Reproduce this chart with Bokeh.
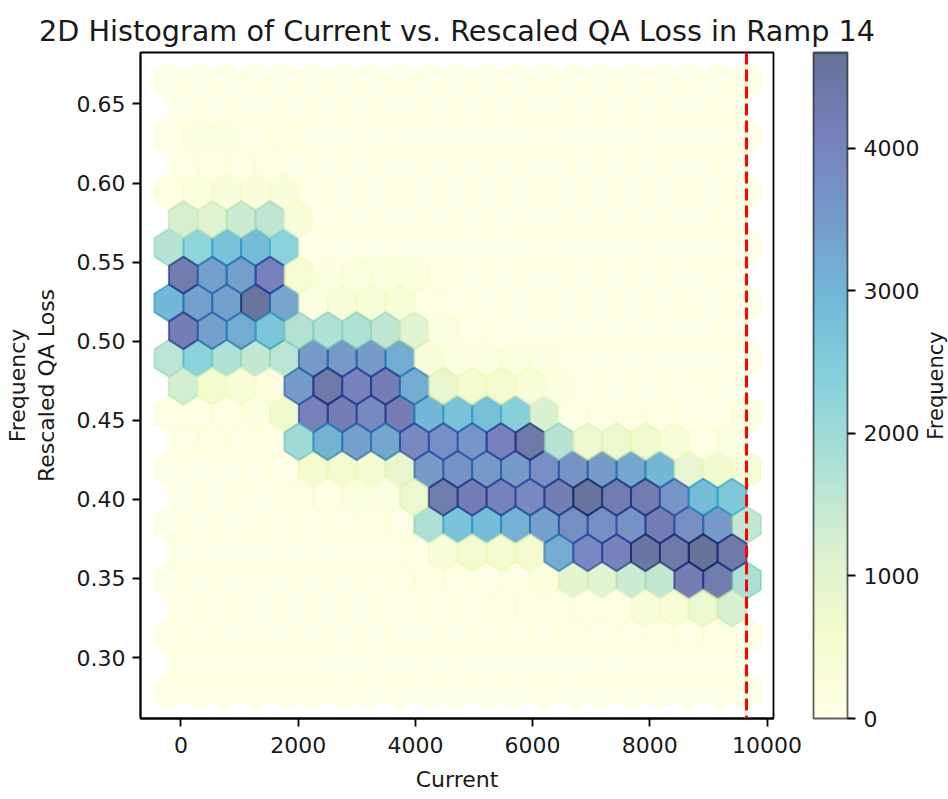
import numpy as np
from bokeh.plotting import figure
from bokeh.layouts import row
from bokeh.models import (LinearColorMapper, ColorBar, FixedTicker, Span, Title, Label,
                          ColumnDataSource, NumeralTickFormatter)
from bokeh.embed import file_html
from bokeh.resources import INLINE

# ---------------- texts ----------------
title_text = "2D Histogram of Current vs. Rescaled QA Loss in Ramp 14"
x_label = "Current"
y_label = "Rescaled QA Loss"
extra_left_label = "Frequency"
cbar_label = "Frequency"

# ---------------- hexbin grid (matplotlib-style, gridsize 20) ----------------
gridsize = 20
current_min, current_max = -205.0, 9650.0
loss_min, loss_max = 0.2787, 0.6645
max_current_line = 9650.0

x_ticks = [0, 2000, 4000, 6000, 8000, 10000]
y_ticks = [0.30, 0.35, 0.40, 0.45, 0.50, 0.55, 0.60, 0.65]
cbar_ticks = [0, 1000, 2000, 3000, 4000]

# counts of lattice-1 hexagons, rows from top (highest loss) to bottom, 21 columns left->right
lattice1_counts = [
    [30, 30, 25, 25, 20, 20, 20, 20, 20, 20, 20, 20, 20, 20, 20, 20, 20, 20, 20, 20, 15],
    [40, 150, 160, 50, 140, 30, 25, 20, 20, 20, 20, 20, 20, 20, 20, 20, 20, 20, 20, 20, 15],
    [80, 200, 300, 300, 280, 40, 30, 25, 25, 20, 20, 20, 20, 20, 20, 20, 20, 20, 20, 20, 15],
    [1650, 2250, 2750, 2900, 2300, 50, 30, 30, 25, 25, 20, 20, 20, 20, 20, 20, 20, 20, 20, 20, 15],
    [2950, 3400, 3400, 4550, 3300, 150, 350, 350, 350, 120, 40, 30, 25, 25, 20, 20, 20, 20, 20, 20, 15],
    [1600, 2300, 1750, 1500, 1600, 3500, 3550, 3500, 3200, 300, 150, 150, 200, 180, 40, 30, 25, 25, 20, 20, 15],
    [70, 90, 100, 150, 650, 4100, 4200, 3900, 4200, 3000, 2750, 2800, 2400, 1200, 100, 100, 100, 90, 40, 40, 150],
    [30, 30, 30, 40, 100, 600, 600, 550, 850, 3500, 3700, 3500, 3500, 3800, 3700, 3500, 3300, 3000, 900, 650, 350],
    [25, 25, 30, 30, 40, 50, 50, 60, 80, 1800, 2700, 2900, 3100, 3400, 3800, 3800, 3700, 4200, 3800, 3500, 1500],
    [20, 20, 20, 25, 25, 30, 30, 40, 60, 120, 100, 100, 100, 250, 950, 1050, 1400, 1500, 4200, 4300, 1800],
    [15, 15, 20, 20, 20, 20, 20, 25, 25, 30, 30, 40, 40, 50, 60, 60, 80, 80, 100, 120, 60],
    [10, 15, 15, 15, 15, 15, 15, 20, 20, 20, 20, 20, 20, 20, 25, 25, 25, 30, 30, 30, 20],
]

# counts of lattice-2 (offset) hexagons, rows from top to bottom, 20 columns left->right
lattice2_counts = [
    [25, 25, 25, 20, 20, 20, 20, 20, 20, 20, 20, 20, 20, 20, 20, 20, 20, 20, 20, 15],
    [100, 100, 130, 100, 30, 25, 20, 20, 20, 20, 20, 20, 20, 20, 20, 20, 20, 20, 20, 15],
    [1250, 1050, 1400, 1550, 300, 40, 30, 25, 25, 20, 20, 20, 20, 20, 20, 20, 20, 20, 20, 15],
    [4300, 3400, 3400, 4100, 450, 180, 200, 200, 200, 100, 30, 25, 25, 20, 20, 20, 20, 20, 20, 15],
    [4200, 3400, 3200, 2650, 1700, 1750, 1750, 1550, 1050, 150, 60, 40, 30, 25, 25, 20, 20, 20, 20, 15],
    [1300, 600, 400, 250, 3500, 4400, 4100, 4200, 3200, 850, 600, 550, 350, 150, 40, 30, 30, 25, 25, 20],
    [100, 140, 60, 60, 2000, 3100, 3400, 3300, 3900, 3800, 3600, 4100, 4400, 1650, 800, 800, 650, 350, 120, 150],
    [25, 25, 25, 30, 100, 120, 150, 150, 800, 4300, 4200, 4100, 3900, 4200, 4600, 4300, 4300, 3600, 2900, 2600],
    [20, 20, 25, 25, 30, 30, 40, 50, 100, 300, 550, 550, 600, 3200, 3900, 4100, 4500, 4400, 4670, 4350],
    [15, 15, 20, 20, 20, 20, 25, 25, 30, 40, 50, 60, 60, 100, 100, 100, 300, 400, 800, 1200],
    [12, 15, 15, 15, 15, 20, 20, 20, 20, 20, 25, 25, 25, 25, 30, 30, 40, 40, 50, 40],
]

# YlGnBu colour scheme
ylgnbu9 = ['#ffffd9', '#edf8b1', '#c7e9b4', '#7fcdbb', '#41b6c4',
           '#1d91c0', '#225ea8', '#253494', '#081d58']

# ---------------- build hexagons ----------------
nx = gridsize
ny = int(nx / np.sqrt(3))
sx = (current_max - current_min) / nx
sy = (loss_max - loss_min) / ny
hex_dx = np.array([0.5, 0.5, 0.0, -0.5, -0.5, 0.0]) * sx
hex_dy = np.array([-0.5, 0.5, 1.0, 0.5, -0.5, -1.0]) * sy / 3.0

xs_list, ys_list, counts = [], [], []
for i in range(nx + 1):
    for j in range(ny + 1):
        cx = current_min + i * sx
        cy = loss_min + j * sy
        xs_list.append(list(cx + hex_dx))
        ys_list.append(list(cy + hex_dy))
        counts.append(lattice1_counts[ny - j][i])
for i in range(nx):
    for j in range(ny):
        cx = current_min + (i + 0.5) * sx
        cy = loss_min + (j + 0.5) * sy
        xs_list.append(list(cx + hex_dx))
        ys_list.append(list(cy + hex_dy))
        counts.append(lattice2_counts[ny - 1 - j][i])

src = ColumnDataSource(dict(xs=xs_list, ys=ys_list, count=counts))

def _rgb(h):
    return [int(h[k:k + 2], 16) for k in (1, 3, 5)]

base = np.array([_rgb(c) for c in ylgnbu9], float)
pos = np.linspace(0, 1, len(ylgnbu9))
tt = np.linspace(0, 1, 256)
rgb = np.stack([np.interp(tt, pos, base[:, k]) for k in range(3)], 1)
palette = ['#%02x%02x%02x' % tuple(int(round(v)) for v in row_) for row_ in rgb]

mapper = LinearColorMapper(palette=palette, low=0, high=max(counts))
ALPHA = 0.62
FONT = "DejaVu Sans"
TXT = "#1a1a1a"

# ---------------- main figure ----------------
p = figure(width=922, height=799, x_range=(-690, 10110), y_range=(0.2615, 0.6825),
           output_backend="svg", toolbar_location=None,
           min_border_left=140, min_border_right=149, min_border_top=52, min_border_bottom=81)

p.patches(xs="xs", ys="ys", source=src,
          fill_color={'field': 'count', 'transform': mapper}, fill_alpha=ALPHA,
          line_color={'field': 'count', 'transform': mapper}, line_alpha=ALPHA, line_width=2)

p.add_layout(Span(location=max_current_line, dimension="height", line_color="red",
                  line_width=3, line_dash="12 5"))

p.xgrid.grid_line_color = None
p.ygrid.grid_line_color = None
p.outline_line_color = "black"
p.outline_line_width = 1.8
p.outline_line_alpha = 1.0
p.background_fill_color = "white"
p.border_fill_color = "white"

p.title.text = title_text
p.title.align = "center"
p.title.text_font = FONT
p.title.text_font_size = "28.7px"
p.title.text_font_style = "normal"
p.title.text_color = TXT
p.title.standoff = 9

p.xaxis.ticker = FixedTicker(ticks=x_ticks)
p.yaxis.ticker = FixedTicker(ticks=y_ticks)
p.yaxis.formatter = NumeralTickFormatter(format="0.00")
p.xaxis.axis_label = x_label
p.yaxis.axis_label = y_label
for ax in (p.xaxis, p.yaxis):
    ax.major_tick_out = 8
    ax.major_tick_in = 0
    ax.minor_tick_out = 0
    ax.minor_tick_in = 0
    ax.major_tick_line_width = 1.8
    ax.axis_line_width = 1.8
    ax.major_label_text_font = FONT
    ax.major_label_text_font_size = "22px"
    ax.major_label_text_color = TXT
    ax.axis_label_text_font = FONT
    ax.axis_label_text_font_size = "22px"
    ax.axis_label_text_font_style = "normal"
    ax.axis_label_text_color = TXT
p.xaxis.major_label_standoff = 10
p.xaxis.axis_label_standoff = 11
p.yaxis.major_label_standoff = 7
p.yaxis.axis_label_standoff = 15

# second (stray) y label, left of the axis label
p.add_layout(Title(text=extra_left_label, align="center", text_font=FONT,
                   text_font_size="22px", text_font_style="normal", text_color=TXT,
                   standoff=2), "left")

cb = ColorBar(color_mapper=mapper, ticker=FixedTicker(ticks=cbar_ticks),
              width=34, height=666, location=(673, 0), padding=0, margin=0,
              scale_alpha=ALPHA, bar_line_color="black", bar_line_width=1.8,
              major_tick_line_color="black", major_tick_out=8, major_tick_in=0,
              major_tick_line_width=1.8, minor_tick_line_color=None,
              major_label_text_font=FONT, major_label_text_font_size="22px",
              major_label_text_color=TXT, label_standoff=8,
              background_fill_alpha=0, border_line_color=None)
p.add_layout(cb)

# ---------------- narrow strip holding the colour-bar label ----------------
p2 = figure(width=26, height=799, x_range=(0, 1), y_range=(0, 1),
            output_backend="svg", toolbar_location=None,
            x_axis_location=None, y_axis_location=None,
            min_border_left=0, min_border_right=0, min_border_top=52, min_border_bottom=81)
p2.outline_line_color = None
p2.background_fill_color = "white"
p2.border_fill_color = "white"
p2.grid.visible = False
p2.add_layout(Label(x=1, y=333, x_units="screen", y_units="screen", text=cbar_label,
                    angle=90, angle_units="deg", text_align="center", text_baseline="top",
                    text_font=FONT, text_font_size="21px", text_color=TXT))

layout = row(p, p2, spacing=0)
open("out.html", "w").write(file_html(layout, INLINE))
